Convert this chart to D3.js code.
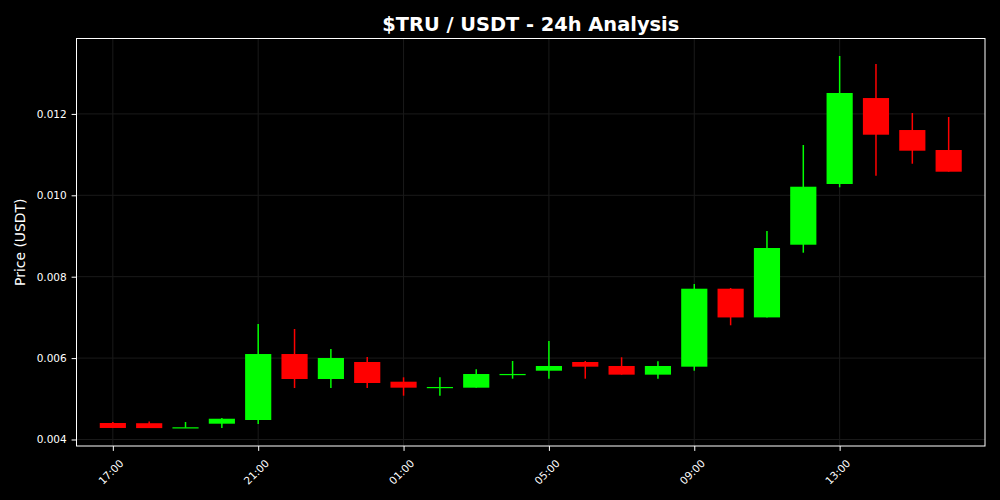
<!DOCTYPE html>
<html><head><meta charset="utf-8">
<script src="https://cdn.jsdelivr.net/npm/d3@7"></script>
<style>
html,body{margin:0;padding:0;background:#000;}
svg{display:block;}
text{font-family:"DejaVu Sans",sans-serif;}
</style></head>
<body>
<svg id="chart" width="1000" height="500"></svg>
<script>
// Hourly candles, starting 17:00
const hours = ["17:00","18:00","19:00","20:00","21:00","22:00","23:00","00:00","01:00","02:00","03:00","04:00","05:00","06:00","07:00","08:00","09:00","10:00","11:00","12:00","13:00","14:00","15:00","16:00"];
const opens  = [0.004405,0.00440,0.00429,0.004388,0.004479,0.00610,0.005486,0.005904,0.00542,0.00527,0.005273,0.00560,0.00569,0.005904,0.005806,0.005593,0.005789,0.007705,0.00700,0.008786,0.010278,0.01239,0.011604,0.011113];
const highs  = [0.00443,0.00444,0.00443,0.00453,0.006838,0.006715,0.006224,0.006027,0.005528,0.005528,0.005725,0.005929,0.00642,0.00593,0.00602,0.005921,0.00782,0.007722,0.009123,0.011236,0.013423,0.013226,0.012022,0.011924];
const lows   = [0.00428,0.00428,0.00429,0.00428,0.00438,0.005265,0.005265,0.005265,0.005076,0.005076,0.005273,0.005494,0.005494,0.005494,0.005593,0.005494,0.00569,0.006806,0.00700,0.00859,0.010197,0.010482,0.010776,0.01058];
const closes = [0.004283,0.00428,0.00430,0.00451,0.00610,0.005486,0.006002,0.005388,0.005273,0.00529,0.005609,0.00561,0.005806,0.005789,0.005593,0.005806,0.007705,0.006999,0.008705,0.010211,0.012514,0.011489,0.011096,0.01058];
const yTicks = [0.004,0.006,0.008,0.010,0.012];
const xTickLabels = ["17:00","21:00","01:00","05:00","09:00","13:00"];

const W = 1000, H = 500;
const m = {left:76.5, right:985, top:38.5, bottom:446};
const svg = d3.select("#chart");
svg.append("rect").attr("width",W).attr("height",H).attr("fill","#000");

const idx = hours.map((_, i) => i);
const x = d3.scaleLinear().domain([-1, hours.length]).range([m.left, m.right]);
const y = d3.scaleLinear().domain([0.00384, 0.013853]).range([m.bottom, m.top]);

// grid
const g = svg.append("g");
g.selectAll(".gy").data(yTicks).join("line")
  .attr("x1", m.left).attr("x2", m.right)
  .attr("y1", d => y(d)).attr("y2", d => y(d))
  .attr("stroke", "#1a1a1a").attr("stroke-width", 1);
const xTickIdx = xTickLabels.map(l => hours.indexOf(l));
g.selectAll(".gx").data(xTickIdx).join("line")
  .attr("x1", d => x(d)).attr("x2", d => x(d))
  .attr("y1", m.top).attr("y2", m.bottom)
  .attr("stroke", "#1a1a1a").attr("stroke-width", 1);

// candles
const half = 0.36;
const cg = svg.append("g");
idx.forEach(i => {
  const up = closes[i] >= opens[i];
  const col = up ? "#00ff00" : "#ff0000";
  cg.append("line")
    .attr("x1", x(i)).attr("x2", x(i))
    .attr("y1", y(highs[i])).attr("y2", y(lows[i]))
    .attr("stroke", col).attr("stroke-width", 1.5);
  const top = y(Math.max(opens[i], closes[i]));
  const bot = y(Math.min(opens[i], closes[i]));
  cg.append("rect")
    .attr("x", x(i - half)).attr("width", x(i + half) - x(i - half))
    .attr("y", top).attr("height", Math.max(1.2, bot - top))
    .attr("fill", col);
});

// frame
svg.append("rect").attr("x", m.left).attr("y", m.top)
  .attr("width", m.right - m.left).attr("height", m.bottom - m.top)
  .attr("fill", "none").attr("stroke", "#fff").attr("stroke-width", 1);

// y axis
const yAxis = d3.axisLeft(y).tickValues(yTicks).tickFormat(d3.format(".3f")).tickSize(4.9).tickPadding(4.9);
const ya = svg.append("g").attr("transform", `translate(${m.left},0)`).call(yAxis);
ya.select(".domain").remove();
ya.selectAll("line").attr("stroke", "#fff");
ya.selectAll("text").attr("fill", "#fff").attr("font-size", 10.5).attr("font-family", "DejaVu Sans");

// x axis
const xAxis = d3.axisBottom(x).tickValues(xTickIdx).tickFormat(d => hours[d]).tickSize(4.9).tickPadding(4.9);
const xa = svg.append("g").attr("transform", `translate(0,${m.bottom})`).call(xAxis);
xa.select(".domain").remove();
xa.selectAll("line").attr("stroke", "#fff");
xa.selectAll("text").attr("fill", "#fff").attr("font-size", 10.5).attr("font-family", "DejaVu Sans")
  .attr("text-anchor", "end").attr("dy", null)
  .attr("transform", "translate(4,11) rotate(-45)");

// labels
svg.append("text").attr("x", (m.left + m.right) / 2).attr("y", 31)
  .attr("text-anchor", "middle").attr("fill", "#fff")
  .attr("font-size", 19.4).attr("font-weight", "bold").text("$TRU / USDT - 24h Analysis");
svg.append("text").attr("transform", `translate(25,${(m.top + m.bottom) / 2}) rotate(-90)`)
  .attr("text-anchor", "middle").attr("fill", "#fff").attr("font-size", 13.9)
  .text("Price (USDT)");
</script>
</body></html>
